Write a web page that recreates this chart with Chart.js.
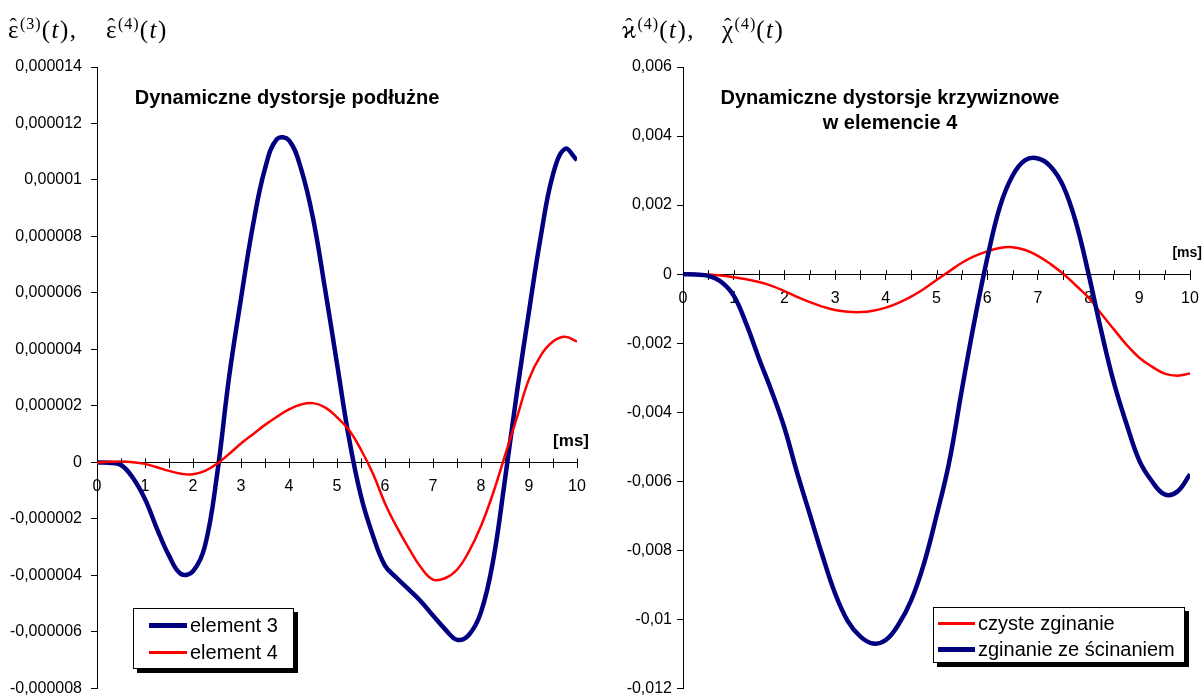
<!DOCTYPE html>
<html>
<head>
<meta charset="utf-8">
<script src="https://cdn.jsdelivr.net/npm/chart.js@4"></script>
<style>
body { margin: 0; width: 1203px; height: 695px; overflow: hidden; background: #fff; position: relative;
       font-family: 'Liberation Sans', Arial, sans-serif; }
canvas { position: absolute; top: 0; }
#leftChart { left: 0; }
#rightChart { left: 600px; }
.math { position: absolute; top: 16px; font-family: 'Liberation Serif', 'DejaVu Serif', serif; font-size: 25px;
        white-space: nowrap; line-height: 28px; letter-spacing: 1.5px; }
.math sup { font-size: 16px; vertical-align: 9px; line-height: 0; letter-spacing: 1px; }
.hat { position: relative; display: inline-block; }
.hat::after { content: '\02C6'; position: absolute; left: 50%; top: -4px; transform: translateX(-50%); font-size: 22px; }
.title { position: absolute; font-weight: bold; font-size: 20px; text-align: center; white-space: nowrap; line-height: 25px;
         transform: translate(-50%, -50%); }
.legend { position: absolute; border: 1px solid #000; box-shadow: 4px 4px 0 #000; background: #fff; font-size: 20px; box-sizing: border-box; }
.legend .row { display: flex; align-items: center; white-space: nowrap; }
.legend .sw { display: inline-block; margin-right: 3px; }
</style>
</head>
<body>
<canvas id="leftChart" width="600" height="707"></canvas>
<canvas id="rightChart" width="612" height="703"></canvas>

<div class="math" style="left:8px;"><span class="hat">ε</span><sup>(3)</sup>(<i>t</i>),</div>
<div class="math" style="left:106px;"><span class="hat">ε</span><sup>(4)</sup>(<i>t</i>)</div>
<div class="math" style="left:622px;"><span class="hat">ϰ</span><sup>(4)</sup>(<i>t</i>),</div>
<div class="math" style="left:722px;"><span class="hat">χ</span><sup>(4)</sup>(<i>t</i>)</div>

<div class="title" style="left:287px; top:97px;">Dynamiczne dystorsje podłużne</div>
<div class="title" style="left:890px; top:110px;">Dynamiczne dystorsje krzywiznowe<br>w elemencie 4</div>

<div class="legend" id="leftLegend" style="left:133px; top:608px; width:161px; height:61px; padding-top:3px;"></div>
<div class="legend" id="rightLegend" style="left:933px; top:607px; width:252px; height:56px; padding-top:2px;"></div>

<script>
// czas [ms]
const tMs = [0, 0.25, 0.5, 0.75, 1, 1.25, 1.5, 1.75, 2, 2.25, 2.5, 2.75, 3, 3.25, 3.5, 3.75, 4, 4.25, 4.5, 4.75,
             5, 5.25, 5.5, 5.75, 6, 6.25, 6.5, 6.75, 7, 7.25, 7.5, 7.75, 8, 8.25, 8.5, 8.75, 9, 9.25, 9.5, 9.75, 10];

// dystorsje podłużne, w jednostkach 1e-6
const element3 = [0, -0.01, -0.09, -0.55, -1.3, -2.35, -3.3, -3.95, -3.85, -2.95, -0.45, 3.0, 5.8, 8.4, 10.4, 11.45, 11.4,
                  10.4, 8.65, 6.15, 3.5, 0.85, -1.2, -2.6, -3.65, -4.1, -4.5, -4.92, -5.42, -5.9, -6.28, -6.1, -5.3, -3.5,
                  -0.6, 2.5, 5.35, 8.05, 10.2, 11.1, 10.7];
const element4 = [0, 0.02, 0.03, 0.01, -0.05, -0.17, -0.3, -0.4, -0.42, -0.3, -0.05, 0.3, 0.67, 1.0, 1.33, 1.62, 1.88,
                  2.05, 2.1, 1.95, 1.6, 1.15, 0.45, -0.4, -1.45, -2.3, -3.05, -3.72, -4.15, -4.1, -3.8, -3.15, -2.25,
                  -1.1, 0.25, 1.6, 2.95, 3.8, 4.28, 4.45, 4.28];

// dystorsje krzywiznowe w elemencie 4, w jednostkach 1e-3
const czysteZginanie = [0, 0, -0.01, -0.04, -0.09, -0.15, -0.23, -0.34, -0.49, -0.66, -0.81, -0.94, -1.04, -1.09, -1.1,
                        -1.06, -0.97, -0.83, -0.65, -0.43, -0.17, 0.08, 0.33, 0.52, 0.66, 0.76, 0.78, 0.7, 0.53, 0.29,
                        0.01, -0.33, -0.68, -1.15, -1.6, -2.05, -2.42, -2.68, -2.88, -2.94, -2.88];
const zeScinaniem = [0, -0.01, -0.05, -0.22, -0.62, -1.45, -2.45, -3.4, -4.45, -5.75, -6.95, -8.15, -9.25, -10.05, -10.5,
                     -10.7, -10.6, -10.15, -9.45, -8.4, -7.0, -5.45, -3.35, -1.35, 0.45, 1.95, 2.85, 3.3, 3.35, 3.12, 2.55,
                     1.5, 0, -1.65, -3.15, -4.35, -5.4, -6.0, -6.38, -6.3, -5.8];

const NAVY = '#000080';
const RED = '#ff0000';

Chart.defaults.font.family = "'Liberation Sans', Arial, sans-serif";
Chart.defaults.color = '#000';

// format liczby z przecinkiem dziesiętnym
function fmt(v, dec) {
    let s = v.toFixed(dec).replace(/\.?0+$/, '');
    if (s === '-0' || s === '') s = '0';
    return s.replace('.', ',');
}

function points(values, unit) {
    return tMs.map((t, i) => ({ x: t, y: values[i] * unit }));
}

// znaczniki przecinające oś czasu + etykieta [ms]
const axisExtras = {
    id: 'axisExtras',
    afterDraw(chart, args, opts) {
        const ctx = chart.ctx;
        const xs = chart.scales.x;
        const y0 = chart.scales.y.getPixelForValue(0);
        ctx.save();
        ctx.strokeStyle = '#000';
        ctx.lineWidth = 1;
        xs.ticks.forEach(t => {
            const px = Math.round(xs.getPixelForValue(t.value)) + 0.5;
            ctx.beginPath();
            ctx.moveTo(px, y0 - 4);
            ctx.lineTo(px, y0);
            ctx.stroke();
        });
        ctx.font = `bold ${opts.size}px 'Liberation Sans', Arial, sans-serif`;
        ctx.fillStyle = '#000';
        ctx.textAlign = 'right';
        ctx.textBaseline = 'middle';
        ctx.fillText('[ms]', chart.chartArea.right + 12, y0 - 21);
        ctx.restore();
    }
};

function makeChart(id, datasets, y, axisWidth, pad, msSize) {
    return new Chart(document.getElementById(id), {
        type: 'line',
        data: { datasets },
        options: {
            responsive: false,
            animation: false,
            devicePixelRatio: 1,
            layout: { padding: pad },
            elements: { point: { radius: 0 }, line: { tension: 0.4 } },
            plugins: { legend: { display: false }, tooltip: { enabled: false }, axisExtras: { size: msSize } },
            scales: {
                x: {
                    type: 'linear',
                    position: { y: 0 },
                    min: 0, max: 10,
                    ticks: {
                        stepSize: 0.5, autoSkip: false, maxRotation: 0, padding: 10,
                        font: { size: 16 },
                        callback: v => Number.isInteger(v) ? String(v) : ''
                    },
                    grid: { drawOnChartArea: false, tickLength: 5, tickColor: '#000' },
                    border: { color: '#000', width: 1 }
                },
                y: {
                    min: y.min, max: y.max,
                    ticks: { stepSize: y.step, padding: y.pad, font: { size: 16 }, callback: v => fmt(v, y.dec) },
                    grid: { drawOnChartArea: false, tickLength: 6, tickColor: '#000' },
                    border: { color: '#000', width: 1 },
                    afterFit: s => { s.width = axisWidth; }
                }
            }
        },
        plugins: [axisExtras]
    });
}

const left = makeChart('leftChart', [
    { label: 'element 3', data: points(element3, 1e-6), borderColor: NAVY, borderWidth: 4.5, order: 2 },
    { label: 'element 4', data: points(element4, 1e-6), borderColor: RED, borderWidth: 2.5, order: 1 }
], { min: -0.000008, max: 0.000014, step: 0.000002, dec: 6, pad: 9 }, 97, { top: 67, right: 23, bottom: 0, left: 0 }, 17);

const right = makeChart('rightChart', [
    { label: 'czyste zginanie', data: points(czysteZginanie, 1e-3), borderColor: RED, borderWidth: 2.5, order: 2 },
    { label: 'zginanie ze ścinaniem', data: points(zeScinaniem, 1e-3), borderColor: NAVY, borderWidth: 4.5, order: 1 }
], { min: -0.012, max: 0.006, step: 0.002, dec: 3, pad: 5 }, 83, { top: 67, right: 22, bottom: 0, left: 0 }, 14);

// legendy w ramkach z cieniem
function buildLegend(chart, elId, rowH, swLeft, swW) {
    const el = document.getElementById(elId);
    chart.data.datasets.forEach(ds => {
        const row = document.createElement('div');
        row.className = 'row';
        row.style.height = rowH + 'px';
        const sw = document.createElement('span');
        sw.className = 'sw';
        sw.style.marginLeft = swLeft + 'px';
        sw.style.width = swW + 'px';
        sw.style.height = (ds.borderWidth > 3 ? 5 : 3) + 'px';
        sw.style.background = ds.borderColor;
        row.appendChild(sw);
        row.appendChild(document.createTextNode(ds.label));
        el.appendChild(row);
    });
}
buildLegend(left, 'leftLegend', 27, 15, 38);
buildLegend(right, 'rightLegend', 26, 4, 37);
</script>
</body>
</html>
